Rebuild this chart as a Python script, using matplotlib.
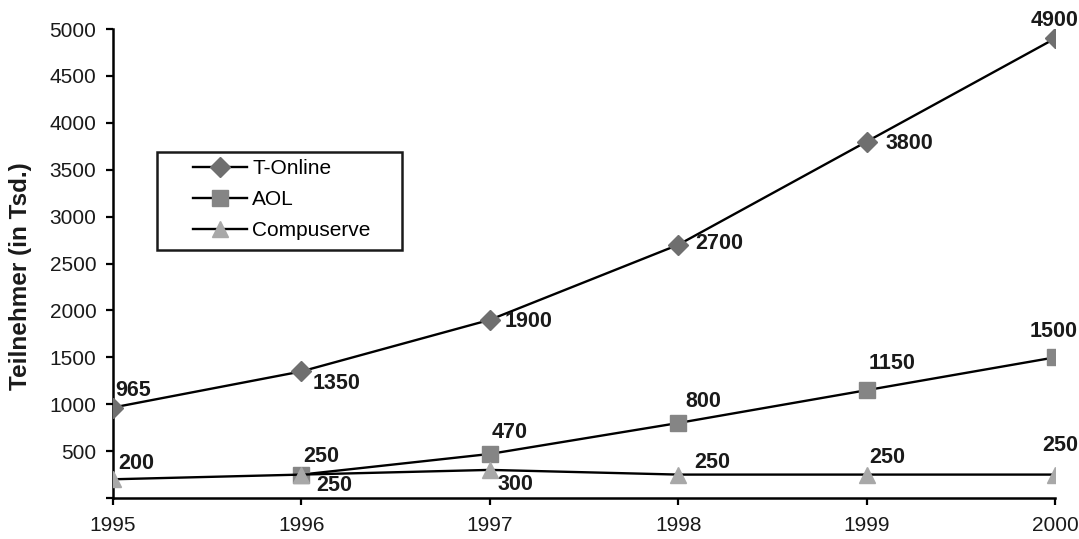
import matplotlib
matplotlib.use('Agg')
import matplotlib.pyplot as plt
from matplotlib.patches import Rectangle

plt.rcParams['font.family'] = ['Liberation Sans', 'DejaVu Sans']

# Data.
years = [1995, 1996, 1997, 1998, 1999, 2000]
t_online = [965, 1350, 1900, 2700, 3800, 4900]
aol_years = [1996, 1997, 1998, 1999, 2000]
aol = [250, 470, 800, 1150, 1500]
compuserve = [200, 250, 300, 250, 250, 250]
y_ticks = [500, 1000, 1500, 2000, 2500, 3000, 3500, 4000, 4500, 5000]

# Label offsets in pixels (dx, dy) for each data label.
t_online_off = [(2, 17), (11, -12), (15, -2), (17, 1), (19, -2), (-24, 18)]
aol_off = [(2, 18), (2, 21), (7, 22), (2, 27), (-25, 26)]
compuserve_off = [(5, 16), (15, -11), (8, -15), (16, 12), (3, 17), (-13, 29)]

fig = plt.figure(figsize=(10.79, 5.39), dpi=100)
ax = fig.add_axes([0.1047, 0.076, 0.8731, 0.870])

ax.plot(years, t_online, color='black', lw=1.7, marker='D', ms=10,
        mfc='#6f6f6f', mec='#6f6f6f', label='T-Online', zorder=3)
ax.plot(aol_years, aol, color='black', lw=1.7, marker='s', ms=11,
        mfc='#858585', mec='#858585', label='AOL', zorder=3)
ax.plot(years, compuserve, color='black', lw=1.7, marker='^', ms=12,
        mfc='#a8a8a8', mec='#a8a8a8', label='Compuserve', zorder=3)

lab = dict(fontsize=15.5, fontweight='bold', textcoords='offset pixels',
           ha='left', va='center', annotation_clip=False, color='#1a1a1a')
for x, y, off in zip(years, t_online, t_online_off):
    ax.annotate(str(y), (x, y), xytext=off, **lab)
for x, y, off in zip(aol_years, aol, aol_off):
    ax.annotate(str(y), (x, y), xytext=off, **lab)
for x, y, off in zip(years, compuserve, compuserve_off):
    ax.annotate(str(y), (x, y), xytext=off, **lab)

ax.set_xlim(1995, 2000)
ax.set_ylim(0, 5000)
ax.set_xticks(years)
ax.set_yticks([0] + y_ticks)
ax.set_yticklabels([''] + [str(v) for v in y_ticks])
ax.tick_params(axis='both', labelsize=15, length=5, width=1.6, direction='out',
               labelcolor='#1a1a1a')
ax.tick_params(axis='y', pad=7)
ax.tick_params(axis='x', pad=8)
for side in ['top', 'right']:
    ax.spines[side].set_visible(False)
for side in ['left', 'bottom']:
    ax.spines[side].set_linewidth(1.8)
ax.set_ylabel('Teilnehmer (in Tsd.)', fontsize=17.5, fontweight='bold', color='#1a1a1a')
ax.yaxis.set_label_coords(-0.086, 0.473)

# Legend without frame, with a separate box drawn around it.
leg = ax.legend(loc='upper left', bbox_to_anchor=(193 / 1079, 1 - 159 / 539),
                bbox_transform=fig.transFigure, fontsize=15, frameon=False,
                handlelength=2.6, borderpad=0, borderaxespad=0,
                labelspacing=0.58, handletextpad=0.25)
for ln in leg.get_lines():
    ln.set_linewidth(1.7)
fig.patches.append(Rectangle((157 / 1079, 1 - 250 / 539), 245 / 1079, 98 / 539,
                             transform=fig.transFigure, fill=False,
                             edgecolor='#1a1a1a', lw=1.8, zorder=5))

fig.savefig('out.png', dpi=100)
